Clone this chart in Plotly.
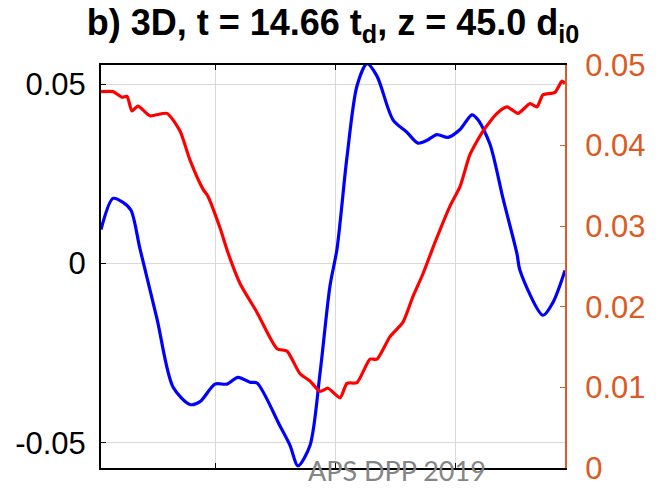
import plotly.graph_objects as go

# ---- data ----
x_blue = [0, 12, 22, 30, 39, 56, 72, 89, 99, 114, 126, 137, 149, 156, 179, 189, 197,
          209, 219, 229, 236, 246, 256, 266, 276, 292, 306, 317, 326, 336, 347, 359,
          371, 377, 389, 402, 416, 419, 442, 452, 464]
blue_vals = [0.0095, 0.0182, 0.0171, 0.0149, 0.0041, -0.0154, -0.0344, -0.0393, -0.0385,
             -0.0336, -0.0336, -0.0317, -0.0331, -0.0333, -0.0453, -0.0507, -0.0564,
             -0.0507, -0.0306, -0.0062, 0.0041, 0.0298, 0.0496, 0.0558, 0.0523, 0.0401,
             0.0366, 0.0336, 0.0344, 0.0360, 0.0352, 0.0374, 0.0415, 0.0401, 0.0333,
             0.0182, 0.0027, -0.0019, -0.0144, -0.0108, -0.0019]

x_red = [0, 12, 21, 26, 31, 37, 49, 66, 79, 89, 102, 107, 119, 127, 139, 156, 176, 186,
         199, 209, 219, 227, 239, 246, 256, 269, 276, 289, 302, 312, 322, 334, 349, 359,
         369, 382, 396, 406, 417, 429, 436, 442, 454, 461, 464]
red_vals = [0.0467, 0.0467, 0.0460, 0.0461, 0.0443, 0.0449, 0.0437, 0.0440, 0.0418,
            0.0382, 0.0346, 0.0337, 0.0298, 0.0267, 0.0229, 0.0193, 0.0148, 0.0145,
            0.0117, 0.0108, 0.0095, 0.0099, 0.0087, 0.0105, 0.0106, 0.0135, 0.0135,
            0.0163, 0.0181, 0.0213, 0.0241, 0.0280, 0.0325, 0.0349, 0.0389, 0.0418,
            0.0440, 0.0448, 0.0440, 0.0452, 0.0448, 0.0463, 0.0466, 0.0480, 0.0477]

x_grid = [114, 234, 354]
left_ticks = [-0.05, 0, 0.05]
left_labels = ["-0.05", "0", "0.05"]
right_ticks = [0, 0.01, 0.02, 0.03, 0.04, 0.05]
right_labels = ["0", "0.01", "0.02", "0.03", "0.04", "0.05"]

title_text = "<b>b) 3D, t = 14.66 t<sub>d</sub>, z = 45.0 d<sub>i0</sub></b>"
watermark = "APS DPP 2019"

ORANGE = "#DA5B23"
GRID = "#d9d9d9"
FONT = "Liberation Sans"

fig = go.Figure()
fig.add_trace(go.Scatter(x=x_blue, y=blue_vals, mode="lines",
                         line=dict(color="#0000FF", width=3.2, shape="spline", smoothing=0.8),
                         yaxis="y", showlegend=False))
fig.add_trace(go.Scatter(x=x_red, y=red_vals, mode="lines",
                         line=dict(color="#FF0000", width=3.2, shape="spline", smoothing=0.6),
                         yaxis="y2", showlegend=False))

fig.update_layout(
    width=666, height=498,
    margin=dict(l=101, r=101, t=65, b=18, pad=0),
    paper_bgcolor="white", plot_bgcolor="white",
    title=dict(text=title_text, x=0.5, xanchor="center", xref="paper",
               y=0.98, yref="container", yanchor="top",
               font=dict(family=FONT, size=36, color="black")),
    xaxis=dict(range=[0, 464], tickvals=x_grid, showticklabels=False,
               ticks="inside", ticklen=5, tickcolor="black", tickwidth=1,
               showgrid=True, gridcolor=GRID, gridwidth=1, zeroline=False,
               showline=True, linecolor="black", linewidth=2, mirror="ticks"),
    yaxis=dict(range=[-0.057, 0.0554], tickvals=left_ticks, ticktext=left_labels,
               ticks="inside", ticklen=5, tickcolor="black",
               showgrid=True, gridcolor=GRID, gridwidth=1, zeroline=False,
               showline=True, linecolor="black", linewidth=2,
               tickfont=dict(family=FONT, size=31, color="black"),
               ticklabelstandoff=7),
    yaxis2=dict(range=[0, 0.05], tickvals=right_ticks, ticktext=right_labels,
                overlaying="y", side="right",
                ticks="inside", ticklen=5, tickcolor=ORANGE,
                showgrid=False, zeroline=False,
                showline=True, linecolor=ORANGE, linewidth=2,
                tickfont=dict(family=FONT, size=31, color=ORANGE),
                ticklabelstandoff=12),
    annotations=[dict(text=watermark, x=296, xref="x", y=-0.005, yref="paper",
                      xanchor="center", yanchor="middle", showarrow=False,
                      font=dict(family="Lato", size=27, color="#858585"))],
)

fig.write_html("out.html")
